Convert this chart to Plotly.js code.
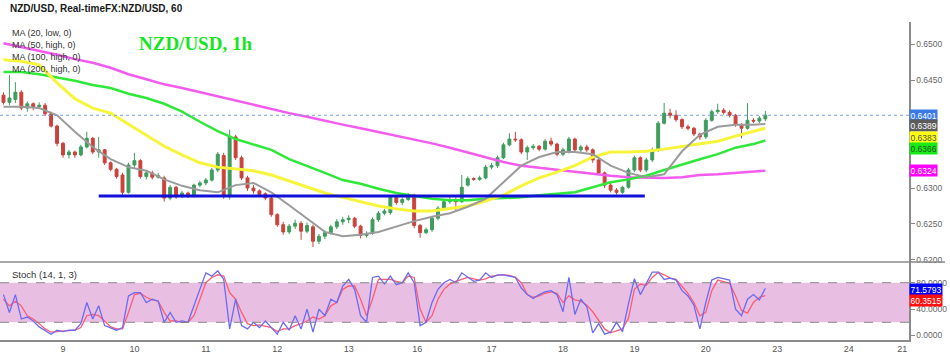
<!DOCTYPE html>
<html>
<head>
<meta charset="utf-8">
<script src="https://cdn.plot.ly/plotly-3.0.1.min.js"></script>
<style>
  html, body { margin: 0; padding: 0; background: #fff; }
  #chart { width: 950px; height: 356px; }
</style>
</head>
<body>
<div id="chart"></div>
<script>
// ---------------- DATA (prices in pips: 6401 = 0.6401) ----------------
// 2-hour candles; time axis = trading hours since the "9" session start
const candleStartHour = -20;
const candleStepHours = 2;
const openPips = [
6429,6419,6423,6433,6411,6417,6413,6415,6403,6386,
6362,6346,6350,6346,6357,6369,6350,6353,6335,6326,
6318,6294,6332,6338,6316,6321,6315,6314,6286,6301,
6288,6293,6289,6304,6307,6311,6325,6345,6289,6371,
6342,6314,6300,6296,6292,6286,6263,6249,6239,6247,
6251,6240,6246,6226,6233,6238,6246,6253,6256,6258,
6247,6234,6237,6256,6265,6266,6287,6280,6284,6290,
6248,6238,6242,6258,6272,6281,6283,6281,6304,6313,
6312,6314,6329,6331,6342,6360,6368,6367,6350,6356,
6358,6354,6365,6361,6347,6350,6368,6353,6357,6353,
6339,6321,6304,6297,6294,6301,6325,6342,6325,6339,
6353,6390,6404,6401,6395,6385,6383,6375,6371,6394,
6406,6408,6405,6401,6388,6383,6394,6393,6396];
const highPips = [
6433,6457,6447,6436,6420,6419,6419,6418,6406,6388,
6364,6353,6352,6360,6378,6371,6371,6354,6337,6328,
6321,6335,6349,6340,6325,6324,6321,6317,6304,6303,
6296,6295,6306,6310,6314,6328,6350,6349,6381,6374,
6345,6317,6304,6298,6294,6288,6265,6253,6250,6256,
6254,6252,6249,6236,6241,6249,6257,6260,6262,6260,
6249,6240,6259,6268,6271,6290,6290,6287,6293,6292,
6250,6245,6261,6275,6284,6290,6287,6318,6316,6315,
6317,6332,6335,6345,6363,6376,6378,6369,6359,6361,
6360,6368,6370,6363,6356,6371,6370,6360,6360,6355,
6341,6323,6307,6300,6303,6328,6345,6344,6342,6356,
6393,6418,6410,6408,6397,6388,6385,6377,6397,6409,
6417,6411,6408,6403,6390,6418,6397,6400,6407];
const lowPips = [
6416,6415,6418,6408,6406,6408,6410,6400,6384,6358,
6342,6341,6342,6344,6355,6347,6342,6332,6323,6313,
6290,6292,6328,6313,6312,6312,6313,6281,6283,6285,
6286,6286,6287,6301,6304,6309,6322,6285,6284,6339,
6311,6296,6292,6288,6283,6260,6246,6235,6236,6243,
6228,6237,6218,6222,6229,6235,6243,6249,6251,6244,
6230,6231,6235,6253,6262,6263,6277,6276,6282,6244,
6231,6236,6239,6255,6269,6278,6269,6279,6302,6310,
6310,6312,6326,6328,6340,6358,6364,6347,6339,6353,
6351,6352,6358,6344,6344,6348,6350,6350,6350,6335,
6318,6300,6294,6291,6292,6299,6322,6322,6322,6336,
6350,6388,6397,6392,6382,6380,6372,6367,6368,6392,
6403,6402,6398,6385,6369,6381,6390,6390,6393];
const closePips = [
6419,6425,6433,6411,6417,6413,6415,6403,6386,6362,
6346,6350,6346,6357,6369,6350,6353,6335,6326,6316,
6294,6332,6338,6316,6321,6315,6317,6286,6301,6288,
6293,6289,6304,6307,6311,6325,6347,6289,6371,6342,
6314,6300,6296,6291,6286,6263,6249,6239,6247,6251,
6240,6248,6226,6233,6238,6246,6253,6256,6258,6247,
6234,6237,6256,6265,6268,6287,6280,6284,6290,6248,
6238,6242,6258,6272,6281,6283,6281,6301,6313,6312,
6314,6329,6331,6342,6360,6368,6367,6350,6356,6358,
6354,6365,6361,6347,6353,6368,6353,6357,6353,6339,
6321,6304,6297,6294,6301,6325,6342,6325,6339,6353,
6390,6404,6401,6395,6385,6383,6375,6371,6394,6406,
6408,6405,6401,6388,6383,6394,6393,6397,6401];

// Moving averages read every 6 hours
const maHours = [-20,-14,-8,-2,4,10,16,22,28,34,40,46,52,58,64,70,76,82,88,94,100,106,112,118,124,130,136,142,148,154,160,166,172,178,184,190,196,202,208,214,220,226,232,236];
const ma20Low = [6413,6413,6411,6401,6378,6357,6340,6329,6324,6312,6303,6297,6294,6304,6307,6294,6276,6258,6239,6233,6235,6239,6247,6254,6260,6265,6274,6285,6308,6331,6343,6350,6350,6347,6331,6321,6315,6319,6351,6374,6385,6388,6388,6389];
const ma50High = [6478,6476,6471,6446,6424,6411,6404,6389,6374,6358,6346,6335,6329,6326,6324,6318,6310,6301,6293,6287,6281,6275,6271,6268,6268,6271,6275,6282,6290,6303,6314,6322,6331,6343,6350,6350,6351,6354,6358,6361,6365,6372,6378,6383];
const ma100High = [6461,6461,6458,6454,6449,6443,6439,6431,6425,6417,6406,6392,6379,6368,6360,6353,6340,6331,6321,6311,6306,6299,6293,6289,6285,6283,6283,6285,6286,6287,6290,6292,6294,6301,6308,6312,6317,6325,6333,6340,6347,6356,6361,6366];
const ma200High = [6501,6496,6490,6485,6479,6474,6467,6458,6451,6444,6439,6433,6428,6422,6415,6410,6404,6399,6393,6388,6383,6378,6372,6368,6362,6356,6349,6342,6336,6331,6328,6325,6322,6319,6317,6315,6314,6314,6315,6318,6319,6321,6323,6324];

// Support line drawn on the chart
const supportHours = [12, 195.5];
const supportPips = [6289, 6289];

// Stochastic (14,1,3) per 2-hour step
const stochK = [62,35,62,25,28,22,13,8,2,8, 6,8,8,18,50,25,45,15,12,8, 12,60,65,65,50,55,52,20,35,20, 22,20,45,70,95,90,98,85,10,55, 15,10,20,12,22,12,2,20,8,30, 10,40,5,40,30,55,50,75,85,70, 30,20,88,90,78,90,77,80,95,80, 15,20,50,70,80,85,80,95,88,82, 84,95,88,92,92,90,88,72,62,56, 62,66,68,62,36,88,32,55,44,4, 18,2,5,20,6,48,86,62,80,96, 96,85,87,84,68,60,46,10,50,84, 88,86,84,40,30,55,62,54,71.5793];
const stochD = [55,45,52,45,30,25,18,10,5,6, 6,7,8,12,30,32,30,22,13,10, 10,35,62,64,58,54,52,35,22,22, 20,20,30,55,80,88,92,90,65,55, 35,18,15,16,14,12,6,10,10,15, 18,22,28,25,30,45,50,70,75,75, 55,30,55,85,85,85,82,80,90,88, 40,20,30,55,70,78,82,85,88,86, 84,86,90,91,92,91,88,80,62,58, 60,64,66,64,50,60,54,52,46,36, 22,10,4,7,10,26,70,78,76,88, 96,92,87,85,74,64,50,30,35,68, 84,82,79,60,38,34,50,58,60.3515];
const stochLevels = [20, 80];

// Axis labels (0.6350 / 0.6400 are hidden behind the value tags in the original)
const dayTickHours = [0,24,48,72,96,119,144,168,192,216,240,264,282];
const dayTickText = ['9','10','11','12','13','16','17','18','19','20','23','24','21'];
const priceTicks = [0.62,0.625,0.63,0.645,0.65];
const stochTicks = [0,40,80];

// ---------------- BUILD ----------------
const P = v => v / 10000;
const hours = openPips.map((_, i) => candleStartHour + i * candleStepHours);
const FONT = 'Liberation Sans, Arial, sans-serif';

const traces = [];
traces.push({
  type: 'candlestick', x: hours,
  open: openPips.map(P), high: highPips.map(P), low: lowPips.map(P), close: closePips.map(P),
  increasing: {line: {color: '#3f9c5e', width: 1}, fillcolor: '#3f9c5e'},
  decreasing: {line: {color: '#c9433c', width: 1}, fillcolor: '#c9433c'},
  whiskerwidth: 0, hoverinfo: 'skip', xaxis: 'x', yaxis: 'y'
});
const maStyle = [
  [ma200High, '#f35bee', 2.5],
  [ma100High, '#2fe83a', 2.5],
  [ma50High, '#f6f53c', 3],
  [ma20Low, '#9b9b9b', 2]
];
maStyle.forEach(([arr, col, w]) => traces.push({
  type: 'scatter', mode: 'lines', x: maHours, y: arr.map(P),
  line: {color: col, width: w}, hoverinfo: 'skip', xaxis: 'x', yaxis: 'y'
}));
traces.push({
  type: 'scatter', mode: 'lines', x: supportHours, y: supportPips.map(P),
  line: {color: '#1010d8', width: 3}, hoverinfo: 'skip', xaxis: 'x', yaxis: 'y'
});
traces.push({
  type: 'scatter', mode: 'lines', x: hours, y: stochD,
  line: {color: '#ff5c72', width: 1.3}, hoverinfo: 'skip', xaxis: 'x', yaxis: 'y2'
});
traces.push({
  type: 'scatter', mode: 'lines', x: hours, y: stochK,
  line: {color: '#6b6bf2', width: 1.3}, hoverinfo: 'skip', xaxis: 'x', yaxis: 'y2'
});

// geometry
const H = 356, T = 22, B = 16;
const plotH = H - T - B;
const sepY = 262;
const split = (H - B - sepY) / plotH;
const py = Y => (H - B - Y) / plotH;   // pixel row -> paper
const pxW = 909;

const lastClose = P(closePips[closePips.length - 1]);
const last = a => a[a.length - 1];

const shapes = [
  {type: 'rect', xref: 'paper', yref: 'y2', x0: 0, x1: 1, y0: stochLevels[0], y1: stochLevels[1],
   fillcolor: '#e8bfe2', line: {width: 0}, layer: 'below'},
  {type: 'line', xref: 'paper', yref: 'y2', x0: 0, x1: 1, y0: stochLevels[0], y1: stochLevels[0],
   line: {color: '#888', width: 1, dash: 'dash'}},
  {type: 'line', xref: 'paper', yref: 'y2', x0: 0, x1: 1, y0: stochLevels[1], y1: stochLevels[1],
   line: {color: '#888', width: 1, dash: 'dash'}},
  {type: 'line', xref: 'paper', yref: 'paper', x0: 0, x1: 945 / pxW, y0: split, y1: split,
   line: {color: '#8a8a8a', width: 1.5}},
  {type: 'line', xref: 'paper', yref: 'y', x0: 0, x1: 1, y0: lastClose, y1: lastClose,
   line: {color: '#7aa3dc', width: 1, dash: 'dot'}}
];

const tag = (val, yref, txt, bg, fg, shift) => ({
  xref: 'paper', yref: yref, x: 1, y: val, xanchor: 'left', yanchor: 'middle',
  text: txt, showarrow: false, bgcolor: bg, borderpad: 0.5, yshift: shift || 0,
  font: {family: FONT, size: 8.5, color: fg}
});
const label = (x, Y, txt, size, opts) => Object.assign({
  xref: 'paper', yref: 'paper', x: x / pxW, y: py(Y), xanchor: 'left', yanchor: 'middle',
  text: txt, showarrow: false, font: {family: FONT, size: size, color: '#333'}
}, opts || {});

const annotations = [
  label(8, 8, '<b>NZD/USD, Real-timeFX:NZD/USD, 60</b>', 10, {font: {family: FONT, size: 10, color: '#1a1a1a'}}),
  label(10, 33, 'MA (20, low, 0)', 9),
  label(10, 45, 'MA (50, high, 0)', 9),
  label(10, 57, 'MA (100, high, 0)', 9),
  label(10, 69, 'MA (200, high, 0)', 9),
  label(137, 43, '<b>NZD/USD, 1h</b>', 19, {font: {family: 'Liberation Serif, Times New Roman, serif', size: 19, color: '#16e51f'}}),
  label(10, 274, 'Stoch (14, 1, 3)', 9.5),
  tag(lastClose, 'y', lastClose.toFixed(4), '#3b7be6', '#ffffff', 0),
  tag(P(last(ma20Low)), 'y', P(last(ma20Low)).toFixed(4), '#5b5b5b', '#ffffff', -2),
  tag(P(last(ma50High)), 'y', P(last(ma50High)).toFixed(4), '#ffff10', '#555555', -9),
  tag(P(last(ma100High)), 'y', P(last(ma100High)).toFixed(4), '#18ea18', '#225522', -8),
  tag(P(last(ma200High)), 'y', P(last(ma200High)).toFixed(4), '#ff00ff', '#ffffff', 0),
  tag(last(stochK), 'y2', last(stochK).toFixed(4), '#0000ff', '#ffffff', -1),
  tag(last(stochD), 'y2', last(stochD).toFixed(4), '#ff1010', '#ffffff', -5)
];

const pxPerHour = 2.976;
const x0px = 63; // pixel of hour 0
const layout = {
  width: 950, height: 356,
  margin: {l: 0, r: 950 - pxW, t: T, b: B, pad: 0},
  paper_bgcolor: '#ffffff', plot_bgcolor: '#ffffff',
  showlegend: false,
  xaxis: {
    range: [-x0px / pxPerHour, (pxW - x0px) / pxPerHour],
    anchor: 'y2', tickmode: 'array', tickvals: dayTickHours, ticktext: dayTickText,
    showgrid: false, zeroline: false, showline: true, linecolor: '#8a8a8a', linewidth: 1.5,
    ticks: '', tickfont: {family: FONT, size: 9, color: '#555'},
    rangeslider: {visible: false}, fixedrange: true
  },
  yaxis: {
    domain: [split, 1], side: 'right', range: [0.61972, 0.65306],
    tickmode: 'array', tickvals: priceTicks, tickformat: '.4f',
    showgrid: false, zeroline: false, showline: true, linecolor: '#8a8a8a', linewidth: 1.5,
    ticks: 'outside', ticklen: 4, tickcolor: '#8a8a8a',
    tickfont: {family: FONT, size: 8.5, color: '#666'}, fixedrange: true
  },
  yaxis2: {
    domain: [0, split], side: 'right', range: [-6.8, 111.4], anchor: 'x',
    tickmode: 'array', tickvals: stochTicks, tickformat: '.4f',
    showgrid: false, zeroline: false, showline: true, linecolor: '#8a8a8a', linewidth: 1.5,
    ticks: 'outside', ticklen: 4, tickcolor: '#8a8a8a',
    tickfont: {family: FONT, size: 8.5, color: '#666'}, fixedrange: true
  },
  shapes: shapes,
  annotations: annotations
};

Plotly.newPlot('chart', traces, layout, {displayModeBar: false, staticPlot: true});
</script>
</body>
</html>
